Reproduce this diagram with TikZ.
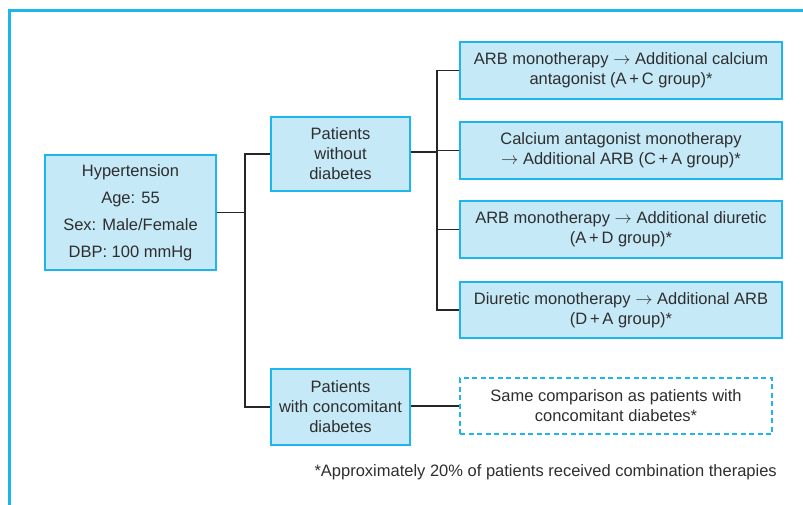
\documentclass[tikz,border=0pt]{standalone}
\usepackage{fontspec}
\setmainfont{Liberation Sans}
\usetikzlibrary{positioning}
\definecolor{boxfill}{HTML}{C6E9F8}
\definecolor{boxline}{HTML}{1EB4EC}
\definecolor{textgray}{HTML}{2E2E2E}

\begin{document}
\begin{tikzpicture}[x=1pt,y=-1pt,
  box/.style={draw=boxline,fill=boxfill,line width=1.3pt,align=center,inner sep=0pt,text=textgray,font=\fontsize{16.5}{20}\selectfont},
  dashbox/.style={box,fill=none,dash pattern=on 5pt off 3.5pt},
  link/.style={draw=black!85,line width=1.3pt}]

\useasboundingbox (0,0) rectangle (803,504);
\clip (0,0) rectangle (803,504);

% Frame
\draw[boxline,line width=3pt] (9,10) rectangle (850,560);

% Patient nodes
\node[box,minimum width=171pt,minimum height=115pt] (hyp) at (130.5,212.5)
  {Hypertension\\[7pt] Age: 55\\[7pt] Sex: Male/Female\\[7pt] DBP: 100 mmHg};
\node[box,minimum width=139pt,minimum height=74pt] (nodiab) at (340.5,154)
  {Patients\\ without\\ diabetes};
\node[box,minimum width=139pt,minimum height=76pt] (diab) at (340.5,407)
  {Patients\\ with concomitant\\ diabetes};

% Treatment nodes
\node[box,minimum width=322pt,minimum height=57pt] (AC) at (621,70.5)
  {ARB monotherapy $\rightarrow$ Additional calcium\\ antagonist (A\,+\,C group)*};
\node[box,minimum width=322pt,minimum height=57pt] (CA) at (621,150.5)
  {Calcium antagonist monotherapy\\ $\rightarrow$ Additional ARB (C\,+\,A group)*};
\node[box,minimum width=322pt,minimum height=57pt] (AD) at (621,229.5)
  {ARB monotherapy $\rightarrow$ Additional diuretic\\ (A\,+\,D group)*};
\node[box,minimum width=322pt,minimum height=56pt] (DA) at (621,310)
  {Diuretic monotherapy $\rightarrow$ Additional ARB\\ (D\,+\,A group)*};
\node[dashbox,minimum width=312pt,minimum height=56pt] (same) at (616,406)
  {Same comparison as patients with\\ concomitant diabetes*};

% Connectors
\coordinate (j1) at (245,212.5);
\coordinate (j2) at (437,152);
\path[link] (hyp.east) -- (j1);
\path[link] (j1) |- (nodiab.west);
\path[link] (j1) |- (diab.west);
\path[link] (nodiab.east |- j2) -- (j2);
\path[link] (j2) |- (AC.west);
\path[link] (j2) |- (CA.west);
\path[link] (j2) |- (AD.west);
\path[link] (j2) |- (DA.west);
\path[link] (diab.east |- same.west) -- (same.west);

% Footnote
\node[anchor=east,inner sep=0pt,text=textgray,font=\fontsize{16.5}{20}\selectfont] (note) at (777,472)
  {*Approximately 20\% of patients received combination therapies};

\end{tikzpicture}
\end{document}
